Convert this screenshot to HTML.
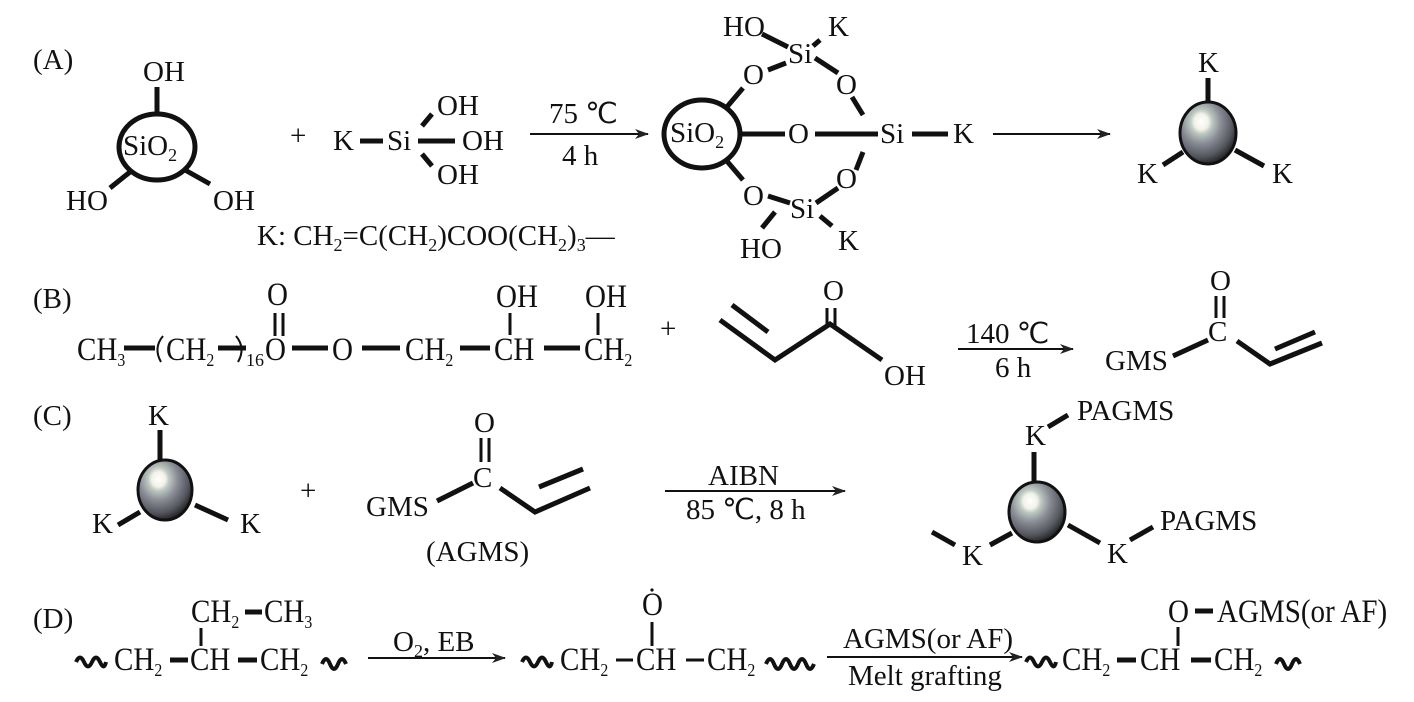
<!DOCTYPE html>
<html><head><meta charset="utf-8"><style>
html,body{margin:0;padding:0;background:#fff;}
svg{display:block;}
text{font-family:"Liberation Serif",serif;font-size:29px;fill:#111;}
.n{font-size:33px;transform-box:fill-box;transform-origin:0 0;transform:scaleX(.88);}
.s{font-size:18px;}
line,path.b{stroke:#111;stroke-width:5;fill:none;}
.t{stroke-width:2;}
</style></head><body>
<svg width="1414" height="702" viewBox="0 0 1414 702" xmlns="http://www.w3.org/2000/svg">
<defs>
<radialGradient id="g" cx="0.38" cy="0.32" r="0.7">
<stop offset="0" stop-color="#fff"/><stop offset="0.18" stop-color="#f2f2ea"/>
<stop offset="0.28" stop-color="#bcc8c0"/><stop offset="0.5" stop-color="#8a8d96"/>
<stop offset="0.8" stop-color="#55575f"/><stop offset="1" stop-color="#222"/>
</radialGradient>
<marker id="ar" markerWidth="14" markerHeight="10" refX="13" refY="5" orient="auto" markerUnits="userSpaceOnUse">
<path d="M0,0 L14,5 L0,10 L4,5 Z" fill="#222"/></marker>
</defs>

<!-- (A) -->
<text x="33" y="69">(A)</text>
<ellipse cx="157" cy="147" rx="38" ry="33" fill="none" stroke="#111" stroke-width="5"/>
<text x="123" y="155">SiO<tspan class="s" dy="6">2</tspan></text>
<text x="143" y="81">OH</text>
<line x1="157" y1="87" x2="157" y2="113"/>
<text x="66" y="210">HO</text>
<line x1="130" y1="172" x2="110" y2="188"/>
<text x="213" y="210">OH</text>
<line x1="185" y1="170" x2="210" y2="184"/>
<text x="290" y="145">+</text>
<text x="333" y="150">K</text>
<line x1="360" y1="141" x2="383" y2="141"/>
<text x="387" y="150">Si</text>
<text x="437" y="115">OH</text>
<line x1="422" y1="126" x2="432" y2="114"/>
<line x1="418" y1="141" x2="455" y2="141"/>
<text x="462" y="150">OH</text>
<text x="437" y="184">OH</text>
<line x1="422" y1="154" x2="432" y2="166"/>
<line class="t" x1="530" y1="134" x2="648" y2="134" marker-end="url(#ar)"/>
<text x="549" y="123">75 ℃</text>
<text x="562" y="165">4 h</text>
<text x="257" y="245">K: CH<tspan class="s" dy="6">2</tspan><tspan dy="-6">=C(CH</tspan><tspan class="s" dy="6">2</tspan><tspan dy="-6">)COO(CH</tspan><tspan class="s" dy="6">2</tspan><tspan dy="-6">)</tspan><tspan class="s" dy="6">3</tspan><tspan dy="-6">—</tspan></text>

<ellipse cx="702" cy="134" rx="38" ry="34" fill="none" stroke="#111" stroke-width="5"/>
<text x="670" y="142">SiO<tspan class="s" dy="6">2</tspan></text>
<line x1="740" y1="134" x2="785" y2="134"/>
<text x="788" y="143">O</text>
<line x1="815" y1="134" x2="878" y2="134"/>
<text x="880" y="143">Si</text>
<line x1="912" y1="134" x2="948" y2="134"/>
<text x="953" y="143">K</text>
<line x1="726" y1="108" x2="743" y2="88"/>
<text x="743" y="84">O</text>
<line x1="768" y1="70" x2="786" y2="63"/>
<text x="788" y="63">Si</text>
<text x="723" y="36">HO</text>
<line x1="762" y1="34" x2="788" y2="47"/>
<text x="828" y="36">K</text>
<line x1="820" y1="40" x2="813" y2="46"/>
<line x1="815" y1="58" x2="838" y2="73"/>
<text x="836" y="94">O</text>
<line x1="852" y1="97" x2="863" y2="115"/>
<line x1="726" y1="160" x2="743" y2="180"/>
<text x="743" y="205">O</text>
<line x1="768" y1="196" x2="790" y2="203"/>
<text x="790" y="218">Si</text>
<line x1="856" y1="170" x2="863" y2="152"/>
<text x="836" y="188">O</text>
<line x1="816" y1="203" x2="838" y2="188"/>
<text x="740" y="258">HO</text>
<line x1="762" y1="228" x2="775" y2="212"/>
<text x="838" y="250">K</text>
<line x1="820" y1="216" x2="832" y2="226"/>
<line class="t" x1="993" y1="134" x2="1110" y2="134" marker-end="url(#ar)"/>
<text x="1198" y="72">K</text>
<line x1="1208" y1="78" x2="1208" y2="104"/>
<ellipse cx="1208" cy="133" rx="28" ry="31" fill="url(#g)" stroke="#111" stroke-width="3"/>
<line x1="1183" y1="152" x2="1163" y2="165"/>
<text x="1137" y="183">K</text>
<line x1="1235" y1="150" x2="1264" y2="166"/>
<text x="1272" y="183">K</text>

<!-- (B) -->
<text x="33" y="308">(B)</text>
<text class="n" x="77" y="360">CH<tspan class="s" dy="6">3</tspan></text>
<line x1="124" y1="348" x2="155" y2="348"/>
<path class="t" d="M163,336 Q153,348 161,362" stroke="#111" fill="none"/>
<text class="n" x="166" y="360">CH<tspan class="s" dy="6">2</tspan></text>
<line x1="218" y1="348" x2="246" y2="348"/>
<path class="t" d="M236,336 Q246,348 238,362" stroke="#111" fill="none"/>
<text class="s" x="246" y="366">16</text>
<text class="n" x="265" y="360">O</text>
<text class="n" x="267" y="305">O</text>
<line x1="275" y1="313" x2="275" y2="336" style="stroke-width:3"/>
<line x1="283" y1="313" x2="283" y2="336" style="stroke-width:3"/>
<line x1="292" y1="348" x2="328" y2="348"/>
<text class="n" x="332" y="360">O</text>
<line x1="362" y1="348" x2="400" y2="348"/>
<text class="n" x="405" y="360">CH<tspan class="s" dy="6">2</tspan></text>
<line x1="460" y1="348" x2="490" y2="348"/>
<text class="n" x="494" y="360">CH</text>
<text class="n" x="496" y="307">OH</text>
<line x1="510" y1="313" x2="510" y2="335" style="stroke-width:3"/>
<line x1="544" y1="348" x2="580" y2="348"/>
<text class="n" x="584" y="360">CH<tspan class="s" dy="6">2</tspan></text>
<text class="n" x="585" y="307">OH</text>
<line x1="598" y1="313" x2="598" y2="335" style="stroke-width:3"/>
<text x="660" y="338">+</text>
<path class="b" d="M720,320 L775,360 L830,324 L882,360"/>
<line x1="732" y1="305" x2="768" y2="332"/>
<text x="823" y="300">O</text>
<line x1="827" y1="308" x2="827" y2="326" style="stroke-width:3"/>
<line x1="835" y1="308" x2="835" y2="326" style="stroke-width:3"/>
<text x="884" y="385">OH</text>
<line class="t" x1="958" y1="349" x2="1073" y2="349" marker-end="url(#ar)"/>
<text x="966" y="343">140 ℃</text>
<text x="995" y="377">6 h</text>
<text x="1105" y="370">GMS</text>
<line x1="1173" y1="356" x2="1208" y2="340"/>
<text x="1208" y="341">C</text>
<text x="1210" y="290">O</text>
<line x1="1216" y1="296" x2="1216" y2="318" style="stroke-width:3"/>
<line x1="1224" y1="296" x2="1224" y2="318" style="stroke-width:3"/>
<path class="b" d="M1237,341 L1270,364 L1322,343"/>
<line x1="1275" y1="349" x2="1315" y2="332"/>

<!-- (C) -->
<text x="33" y="425">(C)</text>
<text x="148" y="425">K</text>
<line x1="160" y1="430" x2="160" y2="460"/>
<ellipse cx="165" cy="490" rx="27" ry="30" fill="url(#g)" stroke="#111" stroke-width="3"/>
<line x1="118" y1="525" x2="140" y2="512"/>
<text x="92" y="533">K</text>
<line x1="195" y1="505" x2="228" y2="520"/>
<text x="240" y="533">K</text>
<text x="300" y="500">+</text>
<text x="366" y="516">GMS</text>
<line x1="437" y1="501" x2="473" y2="483"/>
<text x="473" y="487">C</text>
<text x="474" y="432">O</text>
<line x1="481" y1="438" x2="481" y2="462" style="stroke-width:3"/>
<line x1="489" y1="438" x2="489" y2="462" style="stroke-width:3"/>
<path class="b" d="M500,488 L535,512 L590,488"/>
<line x1="539" y1="487" x2="583" y2="469"/>
<text x="426" y="561">(AGMS)</text>
<line class="t" x1="665" y1="491" x2="845" y2="491" marker-end="url(#ar)"/>
<text x="708" y="485">AIBN</text>
<text x="686" y="519">85 ℃, 8 h</text>
<text x="1077" y="420">PAGMS</text>
<line x1="1048" y1="427" x2="1068" y2="415"/>
<text x="1025" y="445">K</text>
<line x1="1034" y1="452" x2="1034" y2="482"/>
<ellipse cx="1037" cy="512" rx="28" ry="30" fill="url(#g)" stroke="#111" stroke-width="3"/>
<line x1="1012" y1="533" x2="990" y2="545"/>
<line x1="932" y1="532" x2="955" y2="545"/>
<text x="962" y="565">K</text>
<line x1="1068" y1="525" x2="1100" y2="543"/>
<text x="1107" y="563">K</text>
<line x1="1130" y1="540" x2="1153" y2="527"/>
<text x="1160" y="530">PAGMS</text>

<!-- (D) -->
<text x="33" y="628">(D)</text>
<path class="b" style="stroke-width:4" d="M76,662 q4,-9 8,0 t8,0 t8,0 t6,0"/>
<text class="n" x="114" y="670">CH<tspan class="s" dy="6">2</tspan></text>
<line x1="170" y1="660" x2="188" y2="660"/>
<text class="n" x="190" y="670">CH</text>
<line x1="238" y1="660" x2="257" y2="660"/>
<text class="n" x="260" y="670">CH<tspan class="s" dy="6">2</tspan></text>
<path class="b" style="stroke-width:4" d="M322,664 q4,-10 8,0 t8,0 t8,0"/>
<text class="n" x="191" y="622">CH<tspan class="s" dy="6">2</tspan></text>
<line x1="245" y1="612" x2="262" y2="612"/>
<text class="n" x="264" y="622">CH<tspan class="s" dy="6">3</tspan></text>
<line x1="201" y1="628" x2="201" y2="646" style="stroke-width:3"/>
<line class="t" x1="368" y1="658" x2="505" y2="658" marker-end="url(#ar)"/>
<text x="393" y="651">O<tspan class="s" dy="6">2</tspan><tspan dy="-6">, EB</tspan></text>
<path class="b" style="stroke-width:4" d="M522,662 q4,-9 8,0 t8,0 t8,0 t6,0"/>
<text class="n" x="560" y="670">CH<tspan class="s" dy="6">2</tspan></text>
<line x1="616" y1="660" x2="633" y2="660" style="stroke-width:3"/>
<text class="n" x="636" y="670">CH</text>
<line x1="686" y1="660" x2="704" y2="660" style="stroke-width:3"/>
<text class="n" x="707" y="670">CH<tspan class="s" dy="6">2</tspan></text>
<path class="b" style="stroke-width:4" d="M766,664 q4,-10 8,0 t8,0 t8,0 t8,0 t8,0 t8,0"/>
<text class="n" x="642" y="615">O</text>
<circle cx="652" cy="590" r="1.6" fill="#111"/>
<line x1="652" y1="622" x2="652" y2="646" style="stroke-width:3"/>
<line class="t" x1="827" y1="657" x2="1022" y2="657" marker-end="url(#ar)"/>
<text x="843" y="648">AGMS(or AF)</text>
<text x="848" y="685">Melt grafting</text>
<path class="b" style="stroke-width:4" d="M1026,662 q4,-9 8,0 t8,0 t8,0 t6,0"/>
<text class="n" x="1062" y="670">CH<tspan class="s" dy="6">2</tspan></text>
<line x1="1117" y1="660" x2="1136" y2="660"/>
<text class="n" x="1140" y="670">CH</text>
<line x1="1191" y1="660" x2="1211" y2="660"/>
<text class="n" x="1214" y="670">CH<tspan class="s" dy="6">2</tspan></text>
<path class="b" style="stroke-width:4" d="M1276,664 q4,-10 8,0 t8,0 t8,0"/>
<text class="n" x="1168" y="622">O</text>
<line x1="1178" y1="627" x2="1178" y2="646" style="stroke-width:3"/>
<line x1="1195" y1="611" x2="1213" y2="611"/>
<text class="n" x="1217" y="622">AGMS(or AF)</text>
</svg>
</body></html>
